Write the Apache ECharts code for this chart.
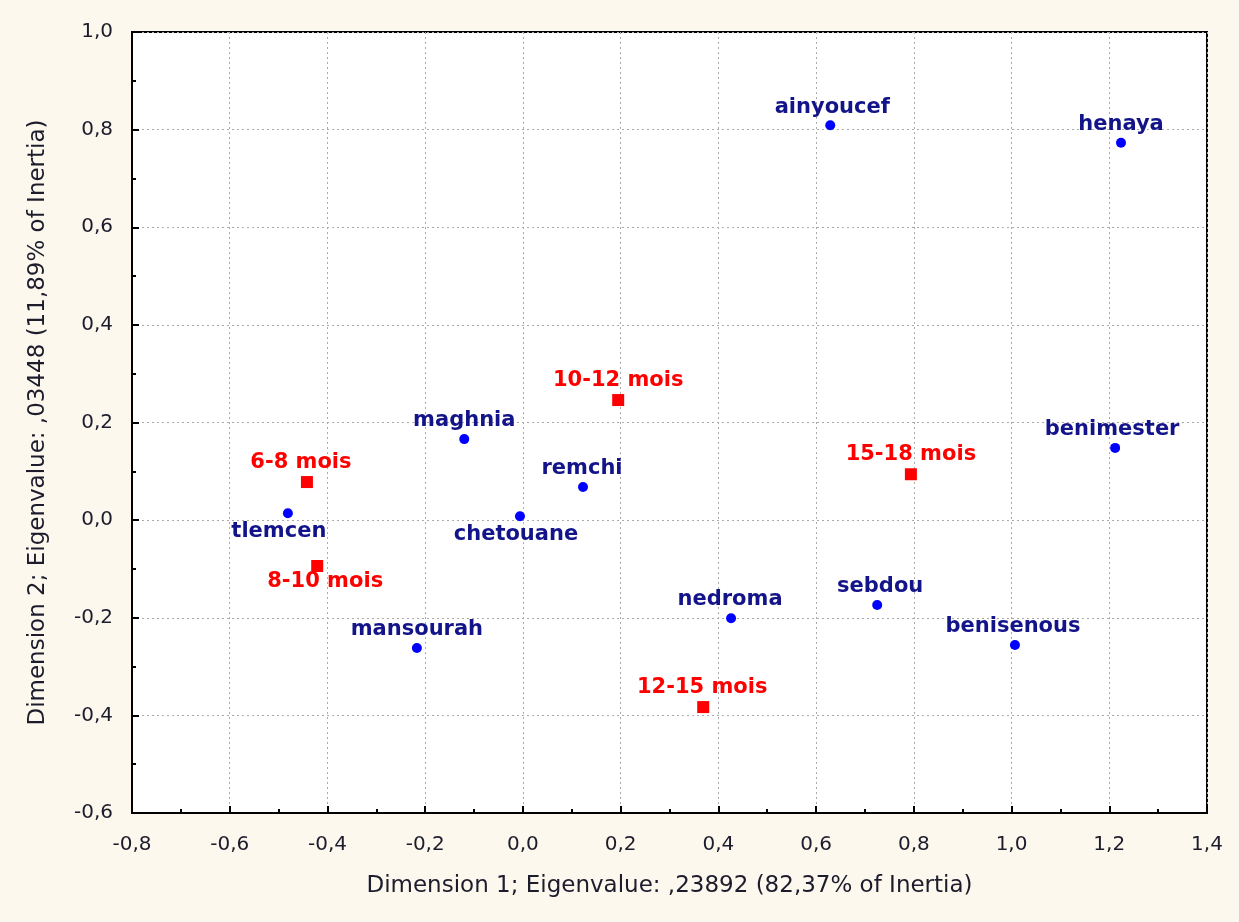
<!DOCTYPE html>
<html><head><meta charset="utf-8">
<script src="https://cdn.jsdelivr.net/npm/echarts@6/dist/echarts.min.js"></script>
<style>html,body{margin:0;padding:0;background:#fdf8ee;}#c{width:1239px;height:922px;}</style>
</head><body><div id="c"></div>
<script>
// Row points (regions)
const regionNames = ['ainyoucef','henaya','maghnia','remchi','chetouane','benimester','tlemcen','mansourah','nedroma','sebdou','benisenous'];
const regionX = [0.629, 1.224, -0.120, 0.123, -0.006, 1.212, -0.481, -0.217, 0.426, 0.725, 1.007];
const regionY = [0.809, 0.773, 0.166, 0.068, 0.008, 0.148, 0.014, -0.262, -0.201, -0.174, -0.256];
// Column points (age classes)
const ageNames = ['10-12 mois','15-18 mois','6-8 mois','8-10 mois','12-15 mois'];
const ageX = [0.195, 0.794, -0.442, -0.421, 0.369];
const ageY = [0.246, 0.094, 0.078, -0.094, -0.383];
// Axis settings
const xMin = -0.8, xMax = 1.4, yMin = -0.6, yMax = 1.0, step = 0.2;
const xTitle = 'Dimension 1; Eigenvalue: ,23892 (82,37% of Inertia)';
const yTitle = 'Dimension 2; Eigenvalue: ,03448 (11,89% of Inertia)';

// label placement (style only)
const regionLabelPos = {
  ainyoucef:['top',[2,3]], henaya:['top',[0,2]], maghnia:['top',[0,2]], remchi:['top',[-1,2]],
  chetouane:['bottom',[-4,-2]], benimester:['top',[-3,2]], tlemcen:['bottom',[-9,-2]],
  mansourah:['top',[0,2]], nedroma:['top',[-1,2]], sebdou:['top',[3,2]], benisenous:['top',[-2,2]]
};
const ageLabelPos = {
  '10-12 mois':['top',[0,2]], '15-18 mois':['top',[0,2]], '6-8 mois':['top',[-6,2]],
  '8-10 mois':['bottom',[8,-6]], '12-15 mois':['top',[-1,2]]
};

const fmt = v => (Math.round(v*10)/10).toFixed(1).replace('.', ',');
const FONT = 'DejaVu Sans, Verdana, sans-serif';

const regionData = regionNames.map((n,i)=>({
  value:[regionX[i], regionY[i]], name:n,
  label:{position:regionLabelPos[n][0], offset:regionLabelPos[n][1]}
}));
const ageData = ageNames.map((n,i)=>({
  value:[ageX[i], ageY[i]], name:n,
  label:{position:ageLabelPos[n][0], offset:ageLabelPos[n][1]}
}));

const axisCommon = {
  type:'value', interval:step,
  axisLine:{show:true, onZero:false, lineStyle:{color:'#000', width:2}},
  axisTick:{show:true, inside:true, length:7, lineStyle:{color:'#000', width:2}},
  minorTick:{show:true, splitNumber:2, length:4, lineStyle:{color:'#000', width:2}},
  splitLine:{show:true, lineStyle:{color:'#aaa', type:[2,3], width:1}},
  axisLabel:{color:'#1c1c2c', fontFamily:FONT, fontSize:20, formatter:fmt},
  nameLocation:'middle',
  nameTextStyle:{color:'#1c1c2c', fontFamily:FONT, fontSize:23}
};

const chart = echarts.init(document.getElementById('c'), null, {renderer:'canvas'});
chart.setOption({
  backgroundColor:'#fdf8ee',
  animation:false,
  grid:{left:132, right:32, top:32, bottom:109, show:true, backgroundColor:'#fff', borderColor:'#000', borderWidth:2},
  xAxis:Object.assign({}, axisCommon, {min:xMin, max:xMax, name:xTitle, nameGap:62,
    axisLabel:Object.assign({}, axisCommon.axisLabel, {margin:22})}),
  yAxis:Object.assign({}, axisCommon, {min:yMin, max:yMax, name:yTitle, nameGap:82,
    axisLabel:Object.assign({}, axisCommon.axisLabel, {margin:19})}),
  series:[
    {type:'scatter', data:regionData, symbol:'circle', symbolSize:10,
     itemStyle:{color:'#0000ff', opacity:1},
     label:{show:true, formatter:'{b}', color:'#14148a', fontFamily:FONT, fontWeight:'bold', fontSize:21}},
    {type:'scatter', data:ageData, symbol:'rect', symbolSize:12,
     itemStyle:{color:'#ff0000', opacity:1},
     label:{show:true, formatter:'{b}', color:'#ff0000', fontFamily:FONT, fontWeight:'bold', fontSize:21}}
  ]
});
</script></body></html>
